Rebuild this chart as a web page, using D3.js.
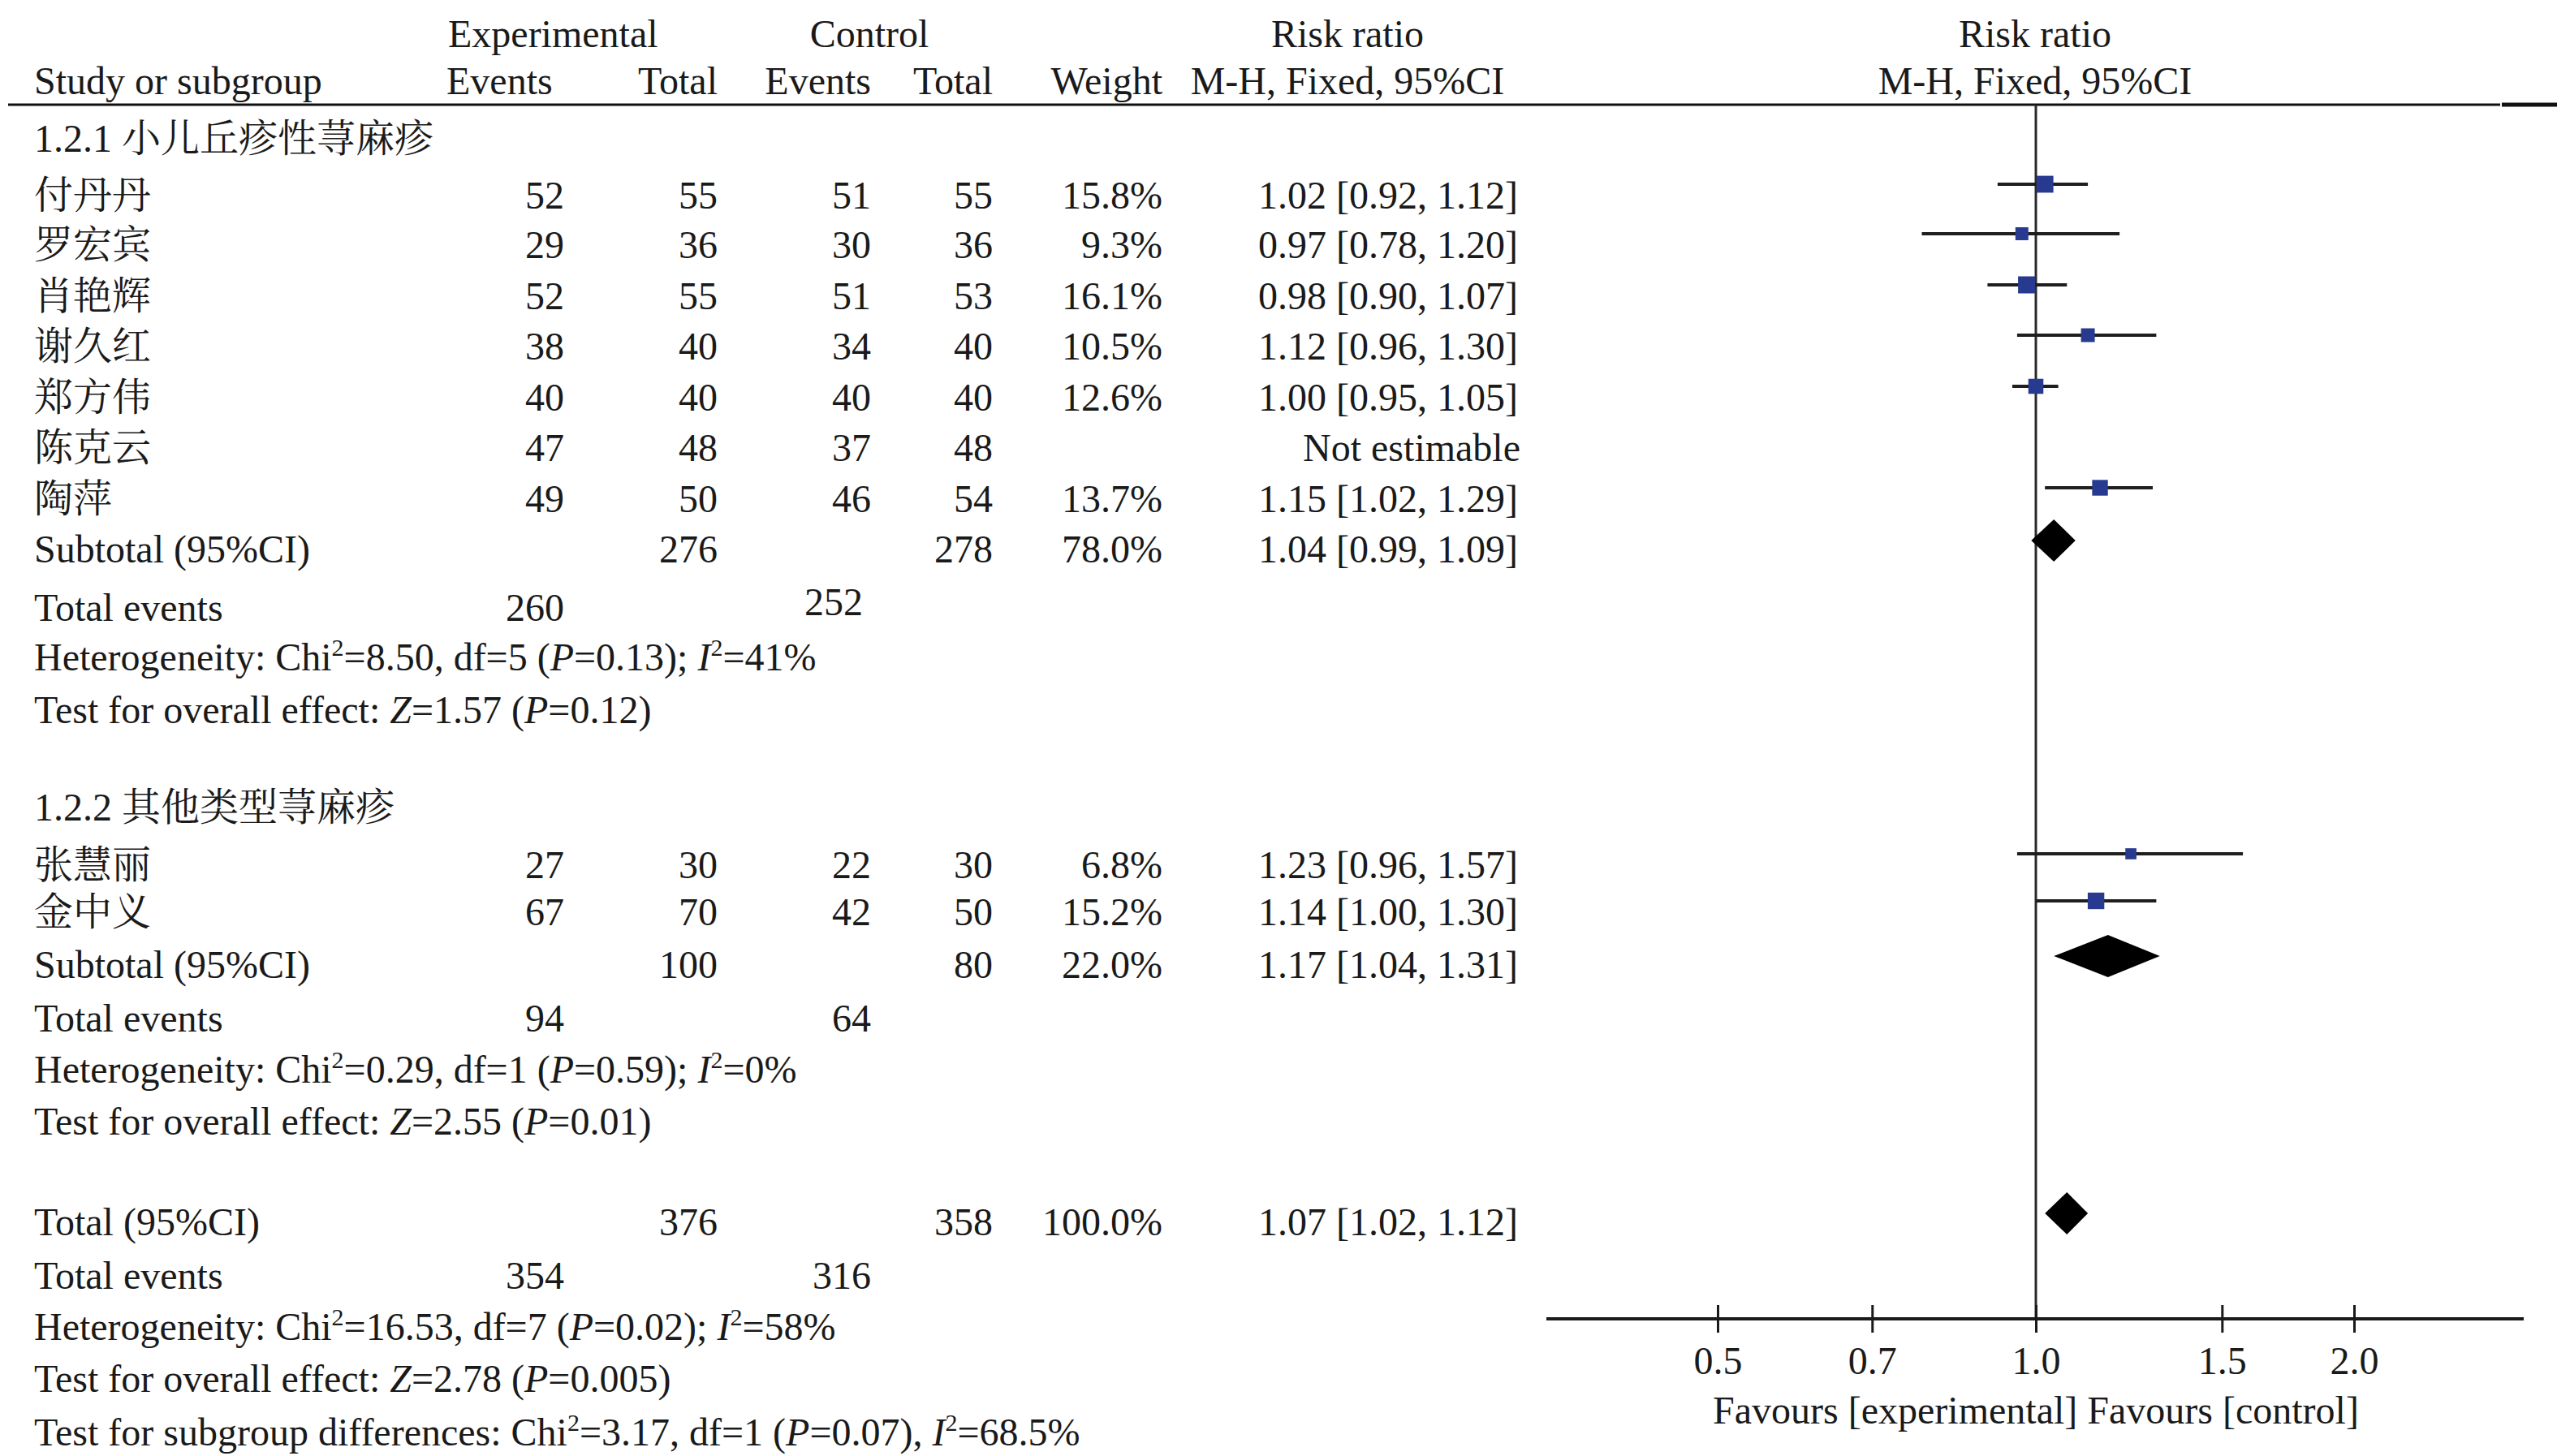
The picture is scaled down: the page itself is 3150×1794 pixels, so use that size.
<!DOCTYPE html>
<html>
<head>
<meta charset="utf-8">
<script src="https://cdn.jsdelivr.net/npm/d3@7"></script>
<style>
  html, body { margin: 0; padding: 0; background: #fff; }
  svg { display: block; }
</style>
</head>
<body>
<svg id="chart" width="3150" height="1794"></svg>
<script>
// ---------------- DATA ----------------
const group1Name = "1.2.1 小儿丘疹性荨麻疹";
const group1Studies = ["付丹丹", "罗宏宾", "肖艳辉", "谢久红", "郑方伟", "陈克云", "陶萍"];
const group1ExpEvents = [52, 29, 52, 38, 40, 47, 49];
const group1ExpTotal = [55, 36, 55, 40, 40, 48, 50];
const group1CtrlEvents = [51, 30, 51, 34, 40, 37, 46];
const group1CtrlTotal = [55, 36, 53, 40, 40, 48, 54];
const group1Weight = [15.8, 9.3, 16.1, 10.5, 12.6, null, 13.7];
const group1RR = [1.02, 0.97, 0.98, 1.12, 1.00, null, 1.15];
const group1Lo = [0.92, 0.78, 0.90, 0.96, 0.95, null, 1.02];
const group1Hi = [1.12, 1.20, 1.07, 1.30, 1.05, null, 1.29];

const group2Name = "1.2.2 其他类型荨麻疹";
const group2Studies = ["张慧丽", "金中义"];
const group2ExpEvents = [27, 67];
const group2ExpTotal = [30, 70];
const group2CtrlEvents = [22, 42];
const group2CtrlTotal = [30, 50];
const group2Weight = [6.8, 15.2];
const group2RR = [1.23, 1.14];
const group2Lo = [0.96, 1.00];
const group2Hi = [1.57, 1.30];

// subtotal / total summaries: [expTotal, ctrlTotal, weight, rr, lo, hi, expEvents, ctrlEvents]
const subtotal1 = [276, 278, 78.0, 1.04, 0.99, 1.09, 260, 252];
const subtotal2 = [100, 80, 22.0, 1.17, 1.04, 1.31, 94, 64];
const overall = [376, 358, 100.0, 1.07, 1.02, 1.12, 354, 316];

const het1 = "Heterogeneity: Chi^2=8.50, df=5 (_P_=0.13); _I_^2=41%";
const eff1 = "Test for overall effect: _Z_=1.57 (_P_=0.12)";
const het2 = "Heterogeneity: Chi^2=0.29, df=1 (_P_=0.59); _I_^2=0%";
const eff2 = "Test for overall effect: _Z_=2.55 (_P_=0.01)";
const hetAll = "Heterogeneity: Chi^2=16.53, df=7 (_P_=0.02); _I_^2=58%";
const effAll = "Test for overall effect: _Z_=2.78 (_P_=0.005)";
const subDiff = "Test for subgroup differences: Chi^2=3.17, df=1 (_P_=0.07), _I_^2=68.5%";

const axisTicks = [0.5, 0.7, 1.0, 1.5, 2.0];
const axisLabel = "Favours [experimental] Favours [control]";

// ---------------- LAYOUT ----------------
const W = 3150, H = 1794;
const FONT = "'Liberation Serif','Times New Roman','Noto Serif CJK SC','Noto Sans CJK SC',serif";
const FS = 48;
const BASE = 16;              // baseline offset from visual centre
const TXT = "#1a1a1a";

const col = {
  study: 42,
  expEv: 695, expTot: 884,
  ctlEv: 1073, ctlTot: 1223,
  weight: 1432, rr: 1870
};

// row centre y positions
const rowsY1 = [241, 302, 365, 427, 490, 552, 615];
const rowsY2 = [1066, 1124];
const Y = {
  h1: 42, h2: 100, line: 129,
  g1: 171, sub1: 677, ev1: 749, het1: 810, eff1: 875,
  g2: 995, sub2: 1189, ev2: 1255, het2: 1318, eff2: 1382,
  tot: 1506, evAll: 1572, hetAll: 1635, effAll: 1699, diff: 1765,
  axis: 1625
};

const x = d3.scaleLog().domain([0.5, 2]).range([2116, 2900]);
const boxSize = d3.scaleSqrt().domain([0, 16.1]).range([0, 21]);

const svg = d3.select("#chart");
svg.append("rect").attr("width", W).attr("height", H).attr("fill", "#fff");

const g = svg.append("g")
  .attr("font-family", FONT)
  .attr("font-size", FS)
  .attr("fill", TXT);

// rich text helper: _x_ italic, ^2 superscript
function rich(sel, str) {
  const parts = str.split(/(_[^_]+_|\^2)/).filter(s => s.length);
  let raised = false;
  parts.forEach(p => {
    if (p === "^2") {
      sel.append("tspan").attr("font-size", 30).attr("dy", -18).text("2");
      raised = true;
    } else {
      const t = sel.append("tspan");
      if (raised) { t.attr("dy", 18); raised = false; }
      if (p[0] === "_") t.attr("font-style", "italic").text(p.slice(1, -1));
      else t.text(p);
    }
  });
}

function text(xp, yc, s, anchor) {
  return g.append("text")
    .attr("x", xp).attr("y", yc + BASE)
    .attr("text-anchor", anchor || "start")
    .text(s);
}
function richText(xp, yc, s) {
  const t = g.append("text").attr("x", xp).attr("y", yc + BASE);
  rich(t, s);
  return t;
}
const fmt1 = d3.format(".1f");
const fmt2 = d3.format(".2f");
const rrLabel = (r, l, h) => `${fmt2(r)} [${fmt2(l)}, ${fmt2(h)}]`;

// ---- headers ----
text(552, Y.h1, "Experimental");
text(1071, Y.h1, "Control", "middle");
text(1660, Y.h1, "Risk ratio", "middle");
text(2507, Y.h1, "Risk ratio", "middle");
text(col.study, Y.h2, "Study or subgroup");
text(550, Y.h2, "Events");
text(col.expTot, Y.h2, "Total", "end");
text(col.ctlEv, Y.h2, "Events", "end");
text(col.ctlTot, Y.h2, "Total", "end");
text(col.weight, Y.h2, "Weight", "end");
text(1660, Y.h2, "M-H, Fixed, 95%CI", "middle");
text(2507, Y.h2, "M-H, Fixed, 95%CI", "middle");

svg.append("line").attr("x1", 10).attr("x2", 3080).attr("y1", Y.line).attr("y2", Y.line)
  .attr("stroke", "#111").attr("stroke-width", 3);
svg.append("line").attr("x1", 3082).attr("x2", W).attr("y1", Y.line).attr("y2", Y.line)
  .attr("stroke", "#111").attr("stroke-width", 5);

// ---- plot reference line & axis ----
const plot = svg.append("g");
plot.append("line")
  .attr("x1", x(1)).attr("x2", x(1))
  .attr("y1", Y.line).attr("y2", Y.axis)
  .attr("stroke", "#2a2a2a").attr("stroke-width", 3);

const axisG = svg.append("g").attr("transform", `translate(0,${Y.axis})`);
axisG.call(d3.axisBottom(x).tickValues(axisTicks).tickFormat(fmt1).tickSize(17));
axisG.select(".domain").remove();
axisG.append("line").attr("x1", 1905).attr("x2", 3109).attr("y1", 0).attr("y2", 0)
  .attr("stroke", "#1a1a1a").attr("stroke-width", 4);
axisG.selectAll(".tick line").attr("y1", -17).attr("y2", 17)
  .attr("stroke", "#1a1a1a").attr("stroke-width", 3);
axisG.selectAll(".tick text")
  .attr("y", 52 + BASE).attr("dy", null)
  .attr("font-family", FONT).attr("font-size", FS).attr("fill", TXT);
svg.append("text")
  .attr("x", x(1)).attr("y", 1738 + BASE)
  .attr("text-anchor", "middle")
  .attr("font-family", FONT).attr("font-size", FS).attr("fill", TXT)
  .text(axisLabel);

// ---- study rows ----
function studyRows(names, ee, et, ce, ct, w, rr, lo, hi, ys) {
  names.forEach((n, i) => {
    const yc = ys[i];
    text(col.study, yc, n);
    text(col.expEv, yc, ee[i], "end");
    text(col.expTot, yc, et[i], "end");
    text(col.ctlEv, yc, ce[i], "end");
    text(col.ctlTot, yc, ct[i], "end");
    if (w[i] != null) {
      text(col.weight, yc, fmt1(w[i]) + "%", "end");
      text(col.rr, yc, rrLabel(rr[i], lo[i], hi[i]), "end");
      const ym = yc - 14;
      plot.append("line")
        .attr("x1", x(lo[i])).attr("x2", x(hi[i]))
        .attr("y1", ym).attr("y2", ym)
        .attr("stroke", "#1e1e1e").attr("stroke-width", 4);
      const s = boxSize(w[i]);
      plot.append("rect")
        .attr("x", x(rr[i]) - s / 2).attr("y", ym - s / 2)
        .attr("width", s).attr("height", s)
        .attr("fill", "#283a8f");
    } else {
      text(col.rr + 3, yc, "Not estimable", "end");
    }
  });
}

function summaryRow(label, s, yc, evY, evDy) {
  text(col.study, yc, label);
  text(col.expTot, yc, s[0], "end");
  text(col.ctlTot, yc, s[1], "end");
  text(col.weight, yc, fmt1(s[2]) + "%", "end");
  text(col.rr, yc, rrLabel(s[3], s[4], s[5]), "end");
  const yd = yc - 11, hh = 26;
  plot.append("path")
    .attr("d", `M${x(s[4])},${yd} L${x(s[3])},${yd - hh} L${x(s[5])},${yd} L${x(s[3])},${yd + hh} Z`)
    .attr("fill", "#000");
  text(col.study, evY, "Total events");
  text(col.expEv, evY, s[6], "end");
  text(col.ctlEv - (evDy ? 10 : 0), evY - (evDy || 0), s[7], "end");
}

text(col.study, Y.g1, group1Name);
studyRows(group1Studies, group1ExpEvents, group1ExpTotal, group1CtrlEvents, group1CtrlTotal,
  group1Weight, group1RR, group1Lo, group1Hi, rowsY1);
summaryRow("Subtotal (95%CI)", subtotal1, Y.sub1, Y.ev1, 7);
richText(col.study, Y.het1, het1);
richText(col.study, Y.eff1, eff1);

text(col.study, Y.g2, group2Name);
studyRows(group2Studies, group2ExpEvents, group2ExpTotal, group2CtrlEvents, group2CtrlTotal,
  group2Weight, group2RR, group2Lo, group2Hi, rowsY2);
summaryRow("Subtotal (95%CI)", subtotal2, Y.sub2, Y.ev2, 0);
richText(col.study, Y.het2, het2);
richText(col.study, Y.eff2, eff2);

summaryRow("Total (95%CI)", overall, Y.tot, Y.evAll, 0);
richText(col.study, Y.hetAll, hetAll);
richText(col.study, Y.effAll, effAll);
richText(col.study, Y.diff, subDiff);
</script>
</body>
</html>
